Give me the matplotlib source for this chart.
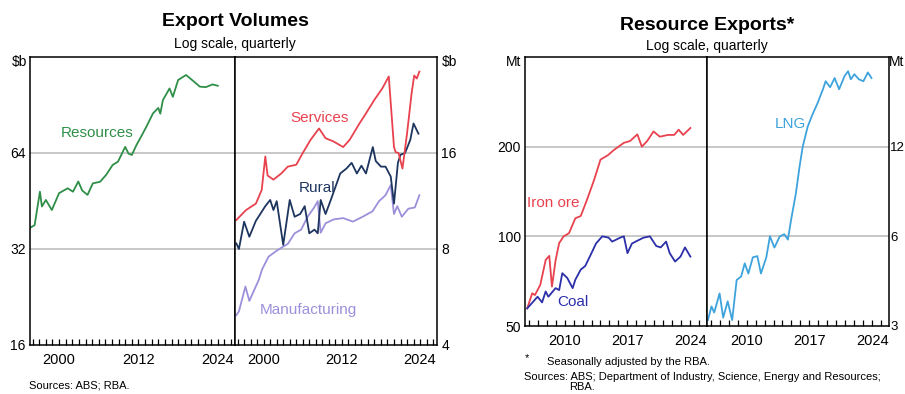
import matplotlib
matplotlib.use("Agg")
import matplotlib.pyplot as plt
from matplotlib.ticker import FixedLocator, NullFormatter

plt.rcParams['font.family'] = ['Liberation Sans', 'DejaVu Sans']

# ---- Export volumes ($b, log scale) ----
res_year = [1995.5, 1996.3, 1997.1, 1997.4, 1998.0, 1998.9, 2000.0, 2001.3, 2002.1, 2002.9,
            2003.5, 2004.3, 2005.1, 2006.2, 2007.1, 2008.1, 2008.9, 2010.0, 2010.5, 2011.0,
            2011.7, 2012.4, 2013.2, 2014.2, 2015.0, 2015.3, 2015.7, 2016.7, 2017.2, 2018.0,
            2019.2, 2020.2, 2021.3, 2022.2, 2023.2, 2024.0]
resources = [37.2, 38.0, 48.4, 43.5, 45.6, 42.4, 47.9, 49.6, 48.4, 52.1,
             48.8, 47.3, 51.4, 52.0, 54.6, 58.7, 60.1, 66.9, 63.7, 63.1,
             67.8, 72.0, 77.4, 85.2, 88.6, 85.0, 93.8, 102.0, 96.0, 108.4,
             112.4, 108.0, 103.3, 103.0, 105.0, 104.0]

svc_year = [1995.8, 1997.3, 1998.8, 1999.7, 2000.25, 2000.6, 2001.5, 2002.7, 2003.7, 2005.0,
            2006.0, 2007.2, 2008.5, 2009.5, 2010.7, 2012.2, 2013.2, 2014.7, 2015.7, 2017.0,
            2018.2, 2019.2, 2020.0, 2020.25, 2020.7, 2021.3, 2022.0, 2022.7, 2023.1, 2023.5,
            2023.9]
services = [9.86, 10.6, 11.1, 12.25, 15.6, 13.6, 13.2, 13.8, 14.5, 14.7,
            16.0, 17.6, 19.1, 17.8, 17.4, 16.7, 17.6, 19.8, 21.3, 23.5,
            25.5, 27.8, 16.7, 16.1, 16.0, 14.3, 18.4, 24.6, 28.0, 27.4,
            28.8]

rur_year = [1995.8, 1996.2, 1997.0, 1997.8, 1998.8, 2000.25, 2001.0, 2001.5, 2002.0, 2003.0,
            2004.0, 2004.75, 2005.6, 2006.3, 2007.0, 2007.8, 2008.3, 2008.75, 2009.5, 2010.3,
            2011.0, 2011.75, 2012.7, 2013.5, 2014.3, 2015.0, 2015.7, 2016.75, 2017.2, 2018.0,
            2018.7, 2019.5, 2020.0, 2020.6, 2021.0, 2021.7, 2022.5, 2023.0, 2023.75]
rural = [8.33, 8.0, 9.74, 8.74, 9.8, 10.9, 11.4, 10.6, 11.3, 8.24,
         11.4, 10.1, 10.3, 10.9, 8.96, 9.2, 8.96, 11.4, 10.3, 11.4,
         12.5, 13.8, 14.3, 14.9, 13.8, 14.6, 13.8, 16.7, 15.1, 14.5,
         14.5, 13.5, 11.1, 14.9, 15.8, 16.0, 17.6, 19.8, 18.4]

man_year = [1995.8, 1996.2, 1997.2, 1997.8, 1998.3, 1999.25, 1999.75, 2000.75, 2002.0, 2002.7,
            2003.7, 2004.75, 2005.75, 2006.75, 2007.75, 2008.3, 2008.75, 2009.5, 2010.7, 2012.2,
            2013.7, 2015.2, 2016.7, 2017.7, 2018.7, 2019.5, 2020.0, 2020.5, 2021.2, 2022.2,
            2023.2, 2023.9]
manufacturing = [4.96, 5.1, 6.1, 5.5, 5.8, 6.4, 6.9, 7.57, 7.9, 8.07,
                 8.3, 8.96, 9.2, 10.1, 10.8, 11.3, 9.0, 9.63, 9.9, 10.0,
                 9.75, 10.1, 10.5, 11.3, 11.8, 12.7, 10.3, 10.9, 10.1, 10.7,
                 10.8, 11.8]

# ---- Resource exports (Mt, log scale) ----
ore_year = [2005.85, 2006.4, 2006.7, 2007.3, 2007.9, 2008.3, 2008.6, 2009.0, 2009.4, 2009.9,
            2010.5, 2011.2, 2011.8, 2012.5, 2013.3, 2014.0, 2014.8, 2015.5, 2016.6, 2017.3,
            2018.1, 2018.6, 2019.2, 2019.9, 2020.6, 2021.5, 2022.2, 2022.7, 2023.2, 2024.0]
iron_ore = [57.3, 64.4, 63.5, 68.7, 83.3, 86.0, 67.8, 83.0, 94.9, 100.0,
            102.5, 115.0, 117.0, 132.7, 155.0, 181.0, 187.0, 195.0, 206.0, 209.0,
            220.0, 200.0, 209.0, 225.0, 216.0, 219.0, 219.0, 228.0, 219.0, 231.0]

coal_year = [2005.85, 2007.0, 2007.5, 2007.9, 2008.2, 2009.0, 2009.4, 2009.75, 2010.3, 2010.9,
             2011.2, 2011.8, 2012.3, 2012.9, 2013.5, 2014.2, 2014.9, 2015.3, 2016.2, 2016.6,
             2017.0, 2017.5, 2018.2, 2018.8, 2019.5, 2020.2, 2020.7, 2021.3, 2021.7, 2022.3,
             2022.9, 2023.4, 2024.0]
coal = [57.3, 62.7, 60.0, 65.3, 62.7, 67.0, 66.0, 75.2, 72.5, 67.0,
        71.5, 77.3, 79.5, 86.6, 94.6, 100.0, 99.0, 96.0, 99.0, 100.0,
        87.8, 94.6, 97.0, 99.0, 100.0, 92.8, 91.8, 96.0, 87.8, 82.3,
        85.5, 91.8, 85.5]

lng_year = [2005.7, 2006.1, 2006.4, 2007.0, 2007.4, 2007.9, 2008.4, 2008.9, 2009.4, 2009.8,
            2010.2, 2010.7, 2011.2, 2011.6, 2012.2, 2012.6, 2013.1, 2013.7, 2014.2, 2014.6,
            2014.95, 2015.5, 2015.9, 2016.25, 2016.8, 2017.3, 2017.9, 2018.5, 2018.8, 2019.3,
            2019.8, 2020.3, 2020.9, 2021.3, 2021.6, 2022.0, 2022.5, 2023.0, 2023.5, 2023.9]
lng = [3.14, 3.49, 3.33, 3.86, 3.2, 3.63, 3.14, 4.28, 4.4, 4.87,
       4.5, 5.1, 5.15, 4.5, 5.1, 6.0, 5.5, 6.0, 6.1, 5.85,
       6.8, 8.4, 10.3, 12.0, 14.0, 15.3, 16.8, 18.7, 19.9, 19.0,
       20.4, 18.7, 20.7, 21.5, 20.2, 21.0, 20.2, 19.9, 21.3, 20.4]

ev_ticks = [2000, 2012, 2024]
re_ticks = [2010, 2017, 2024]

GREEN = '#2f8f48'
RED = '#e8424f'
NAVY = '#1e355f'
LAVENDER = '#9c90da'
BLUE = '#2b2fa8'
LIGHTBLUE = '#3ea3dd'
GRID = '#c4c4c4'

W, H = 905, 394
fig = plt.figure(figsize=(W / 100, H / 100), dpi=100)


def px_axes(x0, x1, y0, y1):
    return fig.add_axes([x0 / W, 1 - y1 / H, (x1 - x0) / W, (y1 - y0) / H])


def style_panel(ax, xlim, ylim, yticks, ylabels, xticks, side, ypad=3, ysize=10):
    ax.set_yscale('log', base=2)
    ax.set_xlim(*xlim)
    ax.set_ylim(*ylim)
    ax.yaxis.set_major_locator(FixedLocator(yticks))
    ax.yaxis.set_minor_locator(FixedLocator([]))
    ax.yaxis.set_minor_formatter(NullFormatter())
    ax.set_yticklabels(ylabels)
    if side == 'right':
        ax.yaxis.tick_right()
    ax.tick_params(axis='y', length=0, labelsize=ysize, pad=ypad)
    for y in yticks[1:-1]:
        ax.axhline(y, color=GRID, lw=1.3, zorder=0)
    ax.set_xticks(xticks)
    ax.set_xticks(range(int(xlim[0]) + 1, int(xlim[1]) + 1), minor=True)
    ax.tick_params(axis='x', which='both', direction='in', length=4.5, width=0.9,
                   labelsize=10.5, pad=6)
    for sp in ax.spines.values():
        sp.set_color('black')
        sp.set_linewidth(1.1)


# Export Volumes
ev_x = (1995.6, 2026.6)
a1 = px_axes(30, 235, 57, 345)
a2 = px_axes(235, 437, 57, 345)
style_panel(a1, ev_x, (16, 128), [16, 32, 64, 128], ['16', '32', '64', ''], ev_ticks, 'left')
style_panel(a2, ev_x, (4, 32), [4, 8, 16, 32], ['4', '8', '16', ''], ev_ticks, 'right')
a1.plot(res_year, resources, color=GREEN, lw=1.3)
a2.plot(man_year, manufacturing, color=LAVENDER, lw=1.3)
a2.plot(rur_year, rural, color=NAVY, lw=1.3)
a2.plot(svc_year, services, color=RED, lw=1.3)

# Resource Exports
re_x = (2005.6, 2025.85)
b1 = px_axes(525, 707, 57, 326)
b2 = px_axes(707, 889, 57, 326)
style_panel(b1, re_x, (50, 400), [50, 100, 200, 400], ['50', '100', '200', ''], re_ticks, 'left')
style_panel(b2, re_x, (3, 24), [3, 6, 12, 24], ['3', '6', '12', ''], re_ticks, 'right',
            ypad=1, ysize=9.5)
b1.plot(ore_year, iron_ore, color=RED, lw=1.3)
b1.plot(coal_year, coal, color=BLUE, lw=1.3)
b2.plot(lng_year, lng, color=LIGHTBLUE, lw=1.3)


def ftext(x, y, s, **kw):
    fig.text(x / W, 1 - y / H, s, **kw)


# titles
ftext(235, 21, 'Export Volumes', ha='center', va='center', fontsize=14, fontweight='bold')
ftext(235, 44, 'Log scale, quarterly', ha='center', va='center', fontsize=10)
ftext(707, 25, 'Resource Exports*', ha='center', va='center', fontsize=14, fontweight='bold')
ftext(707, 46, 'Log scale, quarterly', ha='center', va='center', fontsize=10)

# units
ftext(27, 62, '$b', ha='right', va='center', fontsize=10)
ftext(442, 62, '$b', ha='left', va='center', fontsize=10)
ftext(521, 62, 'Mt', ha='right', va='center', fontsize=10)
ftext(904, 62, 'Mt', ha='right', va='center', fontsize=10)

# series labels
ftext(97, 133, 'Resources', ha='center', va='center', fontsize=11, color=GREEN)
ftext(320, 118, 'Services', ha='center', va='center', fontsize=11, color=RED)
ftext(317, 188, 'Rural', ha='center', va='center', fontsize=11, color=NAVY)
ftext(308, 310, 'Manufacturing', ha='center', va='center', fontsize=11, color=LAVENDER)
ftext(553, 203, 'Iron ore', ha='center', va='center', fontsize=11, color=RED)
ftext(573, 302, 'Coal', ha='center', va='center', fontsize=11, color=BLUE)
ftext(790, 124, 'LNG', ha='center', va='center', fontsize=11, color=LIGHTBLUE)

# notes
ftext(29, 386, 'Sources: ABS; RBA.', ha='left', va='center', fontsize=8)
ftext(525, 358, '*', ha='left', va='center', fontsize=8)
ftext(547, 362, 'Seasonally adjusted by the RBA.', ha='left', va='center', fontsize=8)
ftext(524, 377, 'Sources: ABS; Department of Industry, Science, Energy and Resources;',
      ha='left', va='center', fontsize=8)
ftext(569, 387, 'RBA.', ha='left', va='center', fontsize=8)

fig.savefig('out.png', dpi=100)
